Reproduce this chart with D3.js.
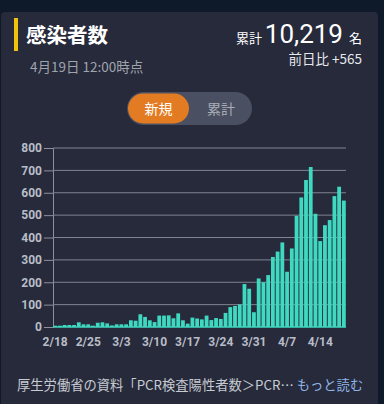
<!DOCTYPE html>
<html lang="ja">
<head>
<meta charset="UTF-8">
<script src="https://d3js.org/d3.v7.min.js"></script>
<style>
  body { margin: 0; background: #0e1a2a; }
  svg { display: block; font-family: "Noto Sans CJK JP", "Noto Sans", sans-serif; }
  .tick text { font-family: Roboto, "Noto Sans", sans-serif; font-weight: bold; font-size: 12px; fill: #b9bdc7; }
</style>
</head>
<body>
<svg width="384" height="404"></svg>
<script>
// daily new cases, 2/18 .. 4/19
const days = d3.timeDay.range(new Date(2020, 1, 18), new Date(2020, 3, 20));
const newCases = [
  6, 6, 9, 9, 9, 21, 12, 12, 6, 19, 21, 16, 7, 12, 12, 12, 30, 28, 57, 45,
  30, 22, 51, 51, 52, 39, 61, 30, 15, 42, 38, 34, 51, 31, 40, 36, 63, 89, 94, 101,
  192, 171, 66, 217, 200, 232, 313, 337, 378, 247, 351, 497, 579, 657, 715, 506, 384, 455, 478, 585,
  627, 565
];
const xTickLabels = ["2/18", "2/25", "3/3", "3/10", "3/17", "3/24", "3/31", "4/7", "4/14"];
const yTicks = [0, 100, 200, 300, 400, 500, 600, 700, 800];

const fmt = d3.timeFormat("%-m/%-d");
const data = days.map((d, i) => ({ label: fmt(d), value: newCases[i] }));

const svg = d3.select("svg");

// card
svg.append("rect").attr("x", 1).attr("y", 12).attr("width", 377).attr("height", 420)
  .attr("rx", 4).attr("fill", "#262a3b");

// header
svg.append("rect").attr("x", 14).attr("y", 18).attr("width", 4).attr("height", 33).attr("fill", "#f0c20c");
svg.append("text").attr("x", 26).attr("y", 43).attr("fill", "#fff")
  .attr("font-size", 20.5).attr("font-weight", "bold").text("感染者数");
svg.append("text").attr("x", 30).attr("y", 72).attr("fill", "#a0a4ad")
  .attr("font-size", 13.5).text("4月19日 12:00時点");

const total = svg.append("text").attr("x", 362).attr("y", 43).attr("text-anchor", "end").attr("fill", "#fff");
total.append("tspan").attr("font-size", 13).text("累計 ");
total.append("tspan").attr("font-size", 26).attr("font-family", "Roboto, sans-serif").text("10,219");
total.append("tspan").attr("font-size", 13).attr("dx", 6).text("名");
svg.append("text").attr("x", 362).attr("y", 64).attr("text-anchor", "end").attr("fill", "#e6e8ec")
  .attr("font-size", 13.5).text("前日比 +565");

// toggle
svg.append("rect").attr("x", 127).attr("y", 92).attr("width", 125).attr("height", 33)
  .attr("rx", 16.5).attr("fill", "#4a5062");
svg.append("rect").attr("x", 128).attr("y", 93.5).attr("width", 61).attr("height", 30)
  .attr("rx", 15).attr("fill", "#e37b22");
svg.append("text").attr("x", 158.5).attr("y", 113.5).attr("text-anchor", "middle")
  .attr("fill", "#fff").attr("font-size", 14).text("新規");
svg.append("text").attr("x", 221).attr("y", 113.5).attr("text-anchor", "middle")
  .attr("fill", "#a9adb6").attr("font-size", 14).text("累計");

// chart
const plotL = 53, plotR = 346, plotT = 148, plotB = 327;
const x = d3.scaleBand().domain(data.map(d => d.label)).range([plotL, plotR]).paddingInner(0.2).paddingOuter(0.05);
const y = d3.scaleLinear().domain([0, 800]).range([plotB, plotT]);

const yAxis = svg.append("g").attr("transform", `translate(${plotL},0)`)
  .call(d3.axisLeft(y).tickValues(yTicks).tickSize(9).tickPadding(2));
yAxis.select(".domain").attr("stroke", "#8d919c");
yAxis.selectAll(".tick line").attr("stroke", "#8d919c");

svg.append("g").selectAll("line").data(yTicks.slice(1)).join("line")
  .attr("x1", plotL).attr("x2", plotR).attr("y1", d => y(d)).attr("y2", d => y(d))
  .attr("stroke", "#7f8491").attr("stroke-width", 1);

svg.append("g").selectAll("rect").data(data).join("rect")
  .attr("x", d => x(d.label)).attr("width", x.bandwidth())
  .attr("y", d => y(d.value)).attr("height", d => plotB - y(d.value))
  .attr("fill", "#3fd8c0");

svg.append("line").attr("x1", plotL).attr("x2", plotR).attr("y1", plotB).attr("y2", plotB)
  .attr("stroke", "#3fd8c0").attr("stroke-width", 1.5);

const xAxis = svg.append("g").attr("transform", `translate(0,${plotB})`)
  .call(d3.axisBottom(x).tickValues(xTickLabels).tickSize(0).tickPadding(10));
xAxis.select(".domain").remove();

// footer
const foot = svg.append("text").attr("x", 17).attr("y", 390).attr("font-size", 13.3);
foot.append("tspan").attr("fill", "#c7cad1").text("厚生労働省の資料「PCR検査陽性者数＞PCR… ");
foot.append("tspan").attr("fill", "#8fb4e6").text("もっと読む");
</script>
</body>
</html>
